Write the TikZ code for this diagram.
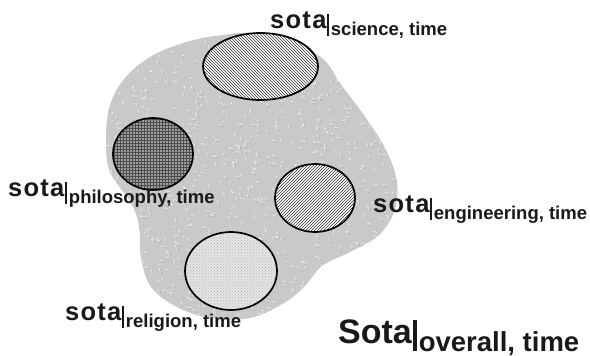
\documentclass[tikz,border=0pt]{standalone}
\usepackage{fontspec}
\setmainfont{Liberation Sans}
\usepackage{tikz}
\usetikzlibrary{patterns}

% label: sota|subscript
\newcommand{\sotatag}[1]{{\fontsize{25.5}{26}\selectfont\addfontfeatures{LetterSpace=5}sota}\kern0.5pt\rule[-8pt]{2.5pt}{22pt}\kern1.5pt\raisebox{-7pt}{\fontsize{18.5}{20}\selectfont #1}}
\newcommand{\sotabig}[1]{{\fontsize{34}{34}\selectfont Sota}\kern1.5pt\rule[-8pt]{3.4pt}{31pt}\kern2pt\raisebox{-8pt}{\fontsize{27.5}{28}\selectfont #1}}

\def\blobpts{(318,55) (342,86) (366,118) (386,150) (397,182) (394,212) (378,236) (350,252) (322,266) (305,286) (284,303) (250,318) (210,318) (177,307) (151,287) (141,258) (139,226) (131,203) (110,172) (106,140) (110,105) (125,78) (150,57) (180,44) (215,36) (262,34)}

\begin{document}
\begin{tikzpicture}[x=1pt,y=-1pt,
    lbl/.style={anchor=base west,inner sep=0pt,font=\bfseries,text=black!90},
    ring/.style={draw=black,line width=1.7pt}]
    \fill[white] (0,0) rectangle (590,356);
    \useasboundingbox (0,0) rectangle (590,356);

    % the textured overall area
    \fill[black!21] plot[smooth cycle,tension=0.6] coordinates {\blobpts};
    \begin{scope}
        \clip plot[smooth cycle,tension=0.6] coordinates {\blobpts};
        \pgfmathsetseed{7}
        \foreach \k in {1,...,1100}{
            \pgfmathsetmacro{\px}{100+rnd*300}
            \pgfmathsetmacro{\py}{30+rnd*295}
            \pgfmathsetmacro{\ang}{20+rnd*50}
            \draw[white,line width=0.9pt,opacity=0.75] (\px,\py) -- ++(\ang:4);
            \draw[black!45,line width=0.6pt,opacity=0.6] (\px+1.2,\py+1.2) -- ++(\ang:3);
        }
    \end{scope}

    % the four fields
    \fill[white] (260.5,66.5) ellipse (57.5 and 33.5);
    \draw[ring,pattern=north west lines,pattern color=black!80] (260.5,66.5) ellipse (57.5 and 33.5);
    \fill[black!38] (153,154) ellipse (40 and 36);
    \draw[ring,pattern=grid,pattern color=black!70] (153,154) ellipse (40 and 36);
    \fill[white] (315,198) ellipse (40 and 34);
    \draw[ring,pattern=north east lines,pattern color=black!80] (315,198) ellipse (40 and 34);
    \fill[black!10] (231,271) ellipse (46 and 39);
    \draw[ring,pattern=crosshatch dots,pattern color=black!30] (231,271) ellipse (46 and 39);

    % labels
    \node[lbl] (science) at (270,28) {\sotatag{science, time}};
    \node[lbl] (philosophy) at (8,196) {\sotatag{philosophy, time}};
    \node[lbl] (engineering) at (373,212) {\sotatag{engineering, time}};
    \node[lbl] (religion) at (65,320) {\sotatag{religion, time}};
    \node[lbl] (overall) at (338,343) {\sotabig{overall, time}};
\end{tikzpicture}
\end{document}
